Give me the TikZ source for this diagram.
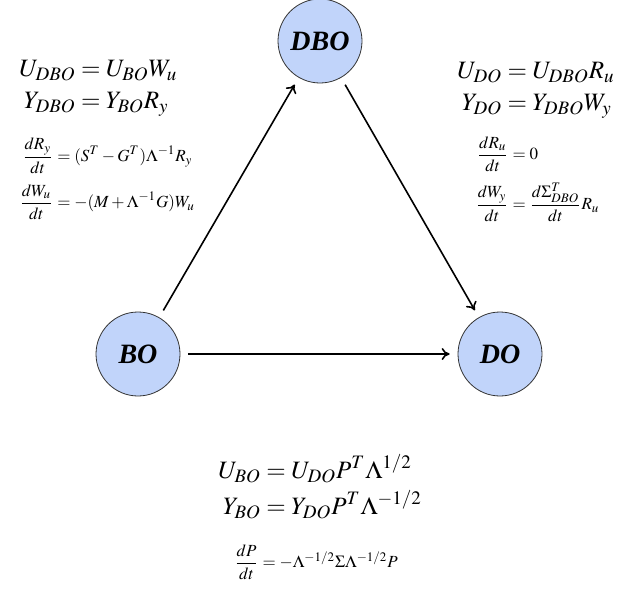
\documentclass[tikz,border=0pt]{standalone}
\usepackage{amsmath}
\usepackage{mathptmx}
\usepackage{fontspec}
\newfontfamily\labelfont{Liberation Serif}
\usetikzlibrary{arrows.meta}
\definecolor{stateblue}{RGB}{193,212,250}
\DeclareMathSizes{12.5}{12.5}{9.5}{7}
\DeclareMathSizes{8.5}{8.5}{6.5}{5}
\newcommand{\statefont}{\fontsize{14}{16}\selectfont\labelfont\bfseries\itshape}
\begin{document}
\begin{tikzpicture}[
  x=0.5pt, y=-0.5pt,
  state/.style   = {circle, draw=black!80, fill=stateblue, thin,
                    minimum size=42pt, inner sep=0pt, font=\statefont},
  bigeq/.style   = {inner sep=0pt, font=\fontsize{12.5}{16}\selectfont},
  smalleq/.style = {inner sep=0pt, font=\fontsize{8.5}{10}\selectfont},
  link/.style    = {->, line width=0.8pt, shorten >=4pt, shorten <=4pt},
  >={To[length=4pt, width=6pt]}
]
  \useasboundingbox (0,0) rectangle (621,590);

  % Zustaende
  \node[state] (DBO) at (320,41)  {DBO};
  \node[state] (BO)  at (138,354) {BO};
  \node[state] (DO)  at (500,354) {DO};

  % Uebergaenge
  \draw[link] (BO)  -- (DBO);
  \draw[link] (DBO) -- (DO);
  \draw[link] (BO)  -- (DO);

  % BO -> DBO
  \node[bigeq, anchor=west] (eqBODBO) at (19,86)
    {$\setlength{\jot}{0pt}\begin{aligned}
       U_{DBO} &= U_{BO}W_u\\
       Y_{DBO} &= Y_{BO}R_y
     \end{aligned}$};
  \node[smalleq, anchor=west] (odeBODBO) at (19,179)
    {$\setlength{\jot}{4.5pt}\begin{aligned}
       \frac{dR_y}{dt} &= (S^T-G^T)\Lambda^{-1}R_y\\
       \frac{dW_u}{dt} &= -(M+\Lambda^{-1}G)W_u
     \end{aligned}$};

  % DBO -> DO
  \node[bigeq, anchor=west] (eqDBODO) at (457,88)
    {$\setlength{\jot}{0pt}\begin{aligned}
       U_{DO} &= U_{DBO}R_u\\
       Y_{DO} &= Y_{DBO}W_y
     \end{aligned}$};
  \node[smalleq, anchor=west] (odeDBODO) at (475,179)
    {$\setlength{\jot}{4.5pt}\begin{aligned}
       \frac{dR_u}{dt} &= 0\\
       \frac{dW_y}{dt} &= \frac{d\Sigma_{DBO}^T}{dt}R_u
     \end{aligned}$};

  % BO -> DO
  \node[bigeq, anchor=west] (eqBODO) at (218,489)
    {$\setlength{\jot}{0pt}\begin{aligned}
       U_{BO} &= U_{DO}P^T\Lambda^{1/2}\\
       Y_{BO} &= Y_{DO}P^T\Lambda^{-1/2}
     \end{aligned}$};
  \node[smalleq] (odeBODO) at (316,562)
    {$\dfrac{dP}{dt} = -\Lambda^{-1/2}\Sigma\Lambda^{-1/2}P$};
\end{tikzpicture}
\end{document}
